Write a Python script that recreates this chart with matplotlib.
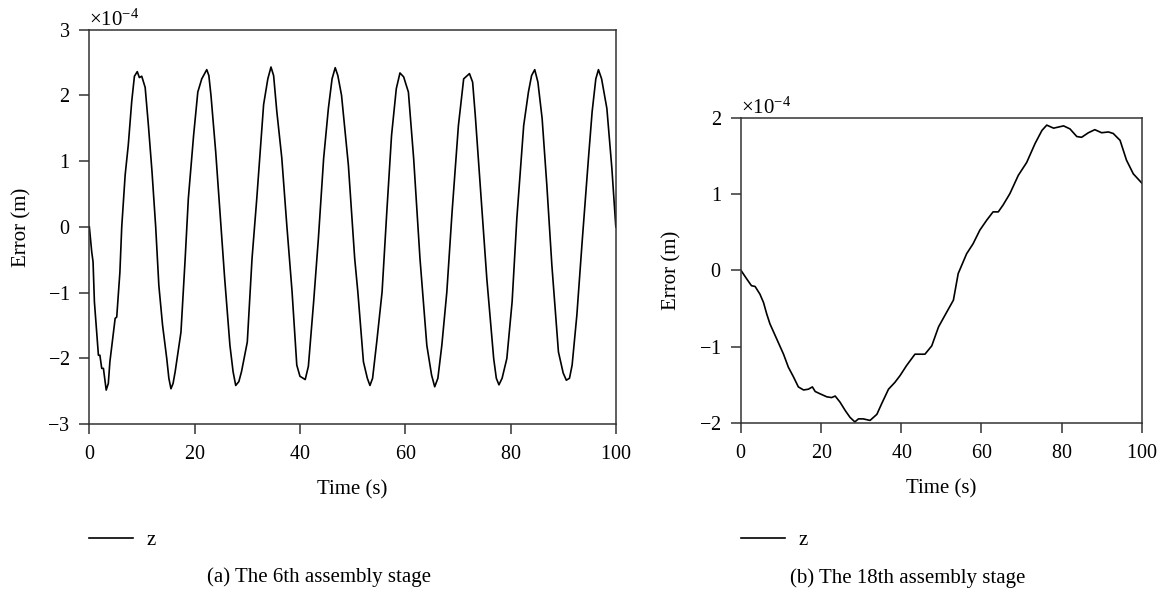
import matplotlib
matplotlib.use("Agg")
import matplotlib.pyplot as plt

plt.rcParams["font.family"] = ["Liberation Serif", "DejaVu Serif"]
plt.rcParams["mathtext.fontset"] = "custom"
plt.rcParams["mathtext.rm"] = "Liberation Serif"
plt.rcParams["mathtext.it"] = "Liberation Serif:italic"
plt.rcParams["axes.formatter.use_mathtext"] = True

SCALE = 1e-4

# (a) 6th assembly stage, error in units of 1e-4 m
time_a = [
    0, 0.45, 0.7, 0.96, 1.4, 1.72, 2.0, 2.35, 2.67, 3.2, 3.6, 3.9, 4.9, 5.2,
    5.8, 6.15, 6.8, 7.4, 8.05, 8.56, 9.1, 9.5, 9.95, 10.6, 11.2, 11.9,
    12.6, 13.2, 13.9, 14.7, 15.1, 15.5, 15.9, 16.3, 17.4, 18.2, 18.8, 19.8,
    20.6, 21.35, 21.9, 22.3, 22.7, 23.1, 24.0, 24.8, 25.7, 26.7, 27.3, 27.8,
    28.4, 28.9, 30.0, 30.9, 31.8, 33.1, 33.9, 34.5, 35.0, 35.6, 36.55, 37.5,
    38.5, 39.4, 40.0, 41.0, 41.6, 42.6, 43.5, 44.5, 45.4, 46.1, 46.7, 47.2,
    47.9, 49.2, 50.4, 51.0, 52.06, 52.8, 53.3, 53.8, 54.6, 55.6, 56.5, 57.4,
    58.3, 59.0, 59.7, 60.6, 61.6, 62.8, 64.1, 65.0, 65.6, 66.2, 66.95, 67.9,
    68.9, 70.1, 71.1, 72.2, 72.8, 73.3, 74.2, 75.5, 76.8, 77.3, 77.8, 78.4,
    79.3, 80.3, 81.2, 82.5, 83.4, 84.0, 84.6, 85.2, 86.0, 86.9, 87.85, 89.1,
    90.0, 90.6, 91.2, 91.7, 92.6, 93.6, 94.8, 95.5, 96.2, 96.7, 97.3, 98.3,
    99.25, 100,
]
error_a = [
    0, -0.38, -0.53, -1.14, -1.6, -1.95, -1.95, -2.15, -2.15, -2.48, -2.38,
    -2.05, -1.39, -1.37, -0.69, 0, 0.79, 1.25, 1.91, 2.29, 2.36, 2.27, 2.29,
    2.12, 1.56, 0.84, 0, -0.89, -1.49, -2.0, -2.3, -2.46, -2.38, -2.2, -1.6,
    -0.48, 0.43, 1.39, 2.05, 2.25, 2.33, 2.39, 2.3, 2.0, 1.14, 0.23, -0.78,
    -1.8, -2.2, -2.41, -2.35, -2.2, -1.75, -0.48, 0.43, 1.86, 2.25, 2.43,
    2.3, 1.76, 1.05, 0.03, -0.98, -2.1, -2.27, -2.32, -2.12, -1.14, -0.18,
    1.04, 1.8, 2.25, 2.42, 2.3, 2.0, 0.94, -0.48, -0.99, -2.05, -2.3, -2.41,
    -2.3, -1.74, -0.99, 0.23, 1.39, 2.1, 2.34, 2.28, 2.05, 1.04, -0.48, -1.8,
    -2.25, -2.43, -2.3, -1.8, -0.99, 0.23, 1.54, 2.25, 2.33, 2.2, 1.7, 0.68,
    -0.79, -2.0, -2.3, -2.4, -2.3, -2.0, -1.14, 0.13, 1.54, 2.05, 2.3, 2.39,
    2.2, 1.65, 0.63, -0.58, -1.9, -2.22, -2.33, -2.3, -2.1, -1.34, -0.23,
    1.04, 1.75, 2.25, 2.39, 2.25, 1.8, 0.89, 0,
]

# (b) 18th assembly stage, error in units of 1e-4 m
time_b = [
    0, 1.4, 2.6, 3.5, 4.7, 5.6, 6.4, 7.2, 8.9, 10.6, 11.8, 13.1, 14.3, 15.6,
    16.8, 17.8, 18.5, 19.7, 21.4, 22.6, 23.5, 24.7, 26.0, 27.2, 28.4, 29.3,
    30.5, 32.2, 33.9, 35.1, 36.8, 38.4, 39.7, 41.3, 43.4, 44.3, 45.9, 47.6,
    49.3, 51.3, 53.0, 54.2, 56.3, 57.9, 59.6, 61.3, 62.9, 64.2, 65.4, 67.1,
    69.2, 71.3, 73.4, 75.1, 76.3, 78.0, 80.5, 82.1, 83.8, 85.0, 86.7, 88.3,
    90.0, 91.7, 92.9, 94.6, 96.2, 97.9, 100,
]
error_b = [
    0, -0.11, -0.2, -0.21, -0.31, -0.42, -0.57, -0.7, -0.9, -1.1, -1.27,
    -1.4, -1.53, -1.57, -1.56, -1.53, -1.59, -1.62, -1.66, -1.67, -1.65,
    -1.73, -1.84, -1.93, -1.99, -1.95, -1.95, -1.97, -1.89, -1.75, -1.56,
    -1.47, -1.38, -1.25, -1.1, -1.1, -1.1, -0.99, -0.74, -0.55, -0.39,
    -0.04, 0.22, 0.35, 0.53, 0.66, 0.77, 0.77, 0.86, 1.01, 1.25, 1.42,
    1.67, 1.84, 1.91, 1.87, 1.90, 1.86, 1.76, 1.75, 1.81, 1.85, 1.81, 1.82,
    1.80, 1.71, 1.45, 1.27, 1.15,
]

yticks_a = [-3, -2, -1, 0, 1, 2, 3]
yticks_b = [-2, -1, 0, 1, 2]
xticks = [0, 20, 40, 60, 80, 100]
captions = ["(a) The 6th assembly stage", "(b) The 18th assembly stage"]

TICK_FS = 14.5
LABEL_FS = 15
EDGE = "#333333"

fig = plt.figure(figsize=(11.65, 5.94), dpi=100)
ax_a = fig.add_axes([0.0767, 0.2857, 0.4519, 0.6646])
ax_b = fig.add_axes([0.6361, 0.2884, 0.3439, 0.5125])


def style_axes(ax, x, y, yticks, ylabel_x, xlabel_y):
    ax.plot(x, [v * SCALE for v in y], color="black", linewidth=1.2, label="z")
    ax.set_xlim(0, 100)
    ax.set_ylim(yticks[0] * SCALE, yticks[-1] * SCALE)
    ax.set_xticks(xticks)
    ax.set_yticks([t * SCALE for t in yticks])
    ax.ticklabel_format(axis="y", style="sci", scilimits=(0, 0), useMathText=True)
    ax.yaxis.get_offset_text().set_fontsize(LABEL_FS)
    for s in ax.spines.values():
        s.set_color(EDGE)
        s.set_linewidth(1.1)
    ax.tick_params(axis="x", direction="out", length=7, width=1.1, color=EDGE,
                   labelsize=TICK_FS, pad=8)
    ax.tick_params(axis="y", direction="out", length=7, width=1.1, color=EDGE,
                   labelsize=TICK_FS, pad=7)
    ax.set_xlabel("Time (s)", fontsize=LABEL_FS)
    ax.set_ylabel("Error (m)", fontsize=LABEL_FS)
    ax.xaxis.set_label_coords(0.5, xlabel_y)
    ax.yaxis.set_label_coords(ylabel_x, 0.5)


style_axes(ax_a, time_a, error_a, yticks_a, -0.11, -0.142)
style_axes(ax_b, time_b, error_b, yticks_b, -0.148, -0.187)

for ax, lx in [(ax_a, 0.0767), (ax_b, 0.6361)]:
    ax.legend(loc="center left", bbox_to_anchor=(lx, 0.0909),
              bbox_transform=fig.transFigure, frameon=False, fontsize=LABEL_FS,
              handlelength=2.1, handletextpad=0.65, borderpad=0,
              borderaxespad=0)

fig.text(319 / 1165, 1 - 577 / 594, captions[0], fontsize=LABEL_FS, ha="center", va="center")
fig.text(908 / 1165, 1 - 578 / 594, captions[1], fontsize=LABEL_FS, ha="center", va="center")

fig.savefig("out.png", dpi=100)
